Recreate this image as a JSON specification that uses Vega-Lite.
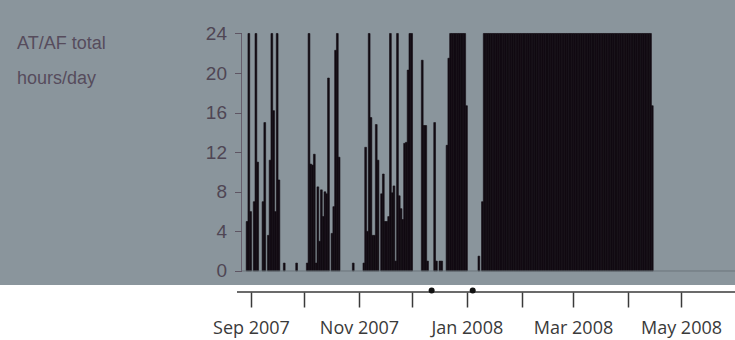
{
  "$schema": "https://vega.github.io/schema/vega-lite/v6.json",
  "width": 735,
  "height": 285,
  "autosize": {"type": "none"},
  "padding": {"left": 0, "top": 0, "right": 0, "bottom": 55},
  "background": "white",
  "config": {"view": {"fill": "#8a959c", "stroke": null}},
  "datasets": {
    "daily": [
      {"date": "2007-08-29", "h": 5}, {"date": "2007-08-30", "h": 24}, {"date": "2007-08-31", "h": 6},
      {"date": "2007-09-02", "h": 7}, {"date": "2007-09-03", "h": 24}, {"date": "2007-09-04", "h": 11},
      {"date": "2007-09-07", "h": 7}, {"date": "2007-09-08", "h": 15},
      {"date": "2007-09-10", "h": 3.6}, {"date": "2007-09-11", "h": 11.2}, {"date": "2007-09-12", "h": 24},
      {"date": "2007-09-13", "h": 16.2}, {"date": "2007-09-14", "h": 6}, {"date": "2007-09-15", "h": 24},
      {"date": "2007-09-16", "h": 9.2},
      {"date": "2007-09-19", "h": 0.8}, {"date": "2007-09-26", "h": 0.8},
      {"date": "2007-10-02", "h": 0.8}, {"date": "2007-10-03", "h": 24}, {"date": "2007-10-04", "h": 10.8},
      {"date": "2007-10-05", "h": 10.7}, {"date": "2007-10-06", "h": 11.8}, {"date": "2007-10-07", "h": 0.8},
      {"date": "2007-10-08", "h": 8.5}, {"date": "2007-10-09", "h": 3}, {"date": "2007-10-10", "h": 8.2},
      {"date": "2007-10-11", "h": 5.5}, {"date": "2007-10-12", "h": 8}, {"date": "2007-10-13", "h": 7.8},
      {"date": "2007-10-14", "h": 19.5}, {"date": "2007-10-16", "h": 3.8}, {"date": "2007-10-17", "h": 6.5},
      {"date": "2007-10-18", "h": 22.3}, {"date": "2007-10-19", "h": 24}, {"date": "2007-10-20", "h": 11.5},
      {"date": "2007-10-28", "h": 0.8},
      {"date": "2007-11-03", "h": 0.8}, {"date": "2007-11-04", "h": 12.5}, {"date": "2007-11-05", "h": 4},
      {"date": "2007-11-06", "h": 24}, {"date": "2007-11-07", "h": 15.5}, {"date": "2007-11-08", "h": 3.6},
      {"date": "2007-11-09", "h": 3.6}, {"date": "2007-11-10", "h": 14.8}, {"date": "2007-11-11", "h": 11.2},
      {"date": "2007-11-13", "h": 7.8}, {"date": "2007-11-14", "h": 9.8}, {"date": "2007-11-15", "h": 5},
      {"date": "2007-11-16", "h": 5}, {"date": "2007-11-17", "h": 5.5}, {"date": "2007-11-18", "h": 24},
      {"date": "2007-11-19", "h": 7.9}, {"date": "2007-11-20", "h": 8.6}, {"date": "2007-11-21", "h": 1},
      {"date": "2007-11-22", "h": 24}, {"date": "2007-11-23", "h": 7.6}, {"date": "2007-11-24", "h": 6.3},
      {"date": "2007-11-25", "h": 5.2}, {"date": "2007-11-26", "h": 12.9}, {"date": "2007-11-27", "h": 13},
      {"date": "2007-11-28", "h": 20.3}, {"date": "2007-11-29", "h": 24}, {"date": "2007-11-30", "h": 24},
      {"date": "2007-12-06", "h": 21.3}, {"date": "2007-12-07", "h": 14.7}, {"date": "2007-12-08", "h": 14.7},
      {"date": "2007-12-09", "h": 1}, {"date": "2007-12-13", "h": 15}, {"date": "2007-12-14", "h": 1},
      {"date": "2007-12-16", "h": 1}, {"date": "2007-12-17", "h": 1},
      {"date": "2007-12-20", "h": 12.7}, {"date": "2007-12-21", "h": 21.5},
      {"date": "2007-12-22", "h": 24}, {"date": "2007-12-23", "h": 24}, {"date": "2007-12-24", "h": 24},
      {"date": "2007-12-25", "h": 24}, {"date": "2007-12-26", "h": 24}, {"date": "2007-12-27", "h": 24},
      {"date": "2007-12-28", "h": 24}, {"date": "2007-12-29", "h": 24}, {"date": "2007-12-30", "h": 24},
      {"date": "2007-12-31", "h": 16.7},
      {"date": "2008-01-07", "h": 1.5}, {"date": "2008-01-09", "h": 7},
      {"date": "2008-01-10", "h": 24}, {"date": "2008-01-11", "h": 24}, {"date": "2008-01-12", "h": 24},
      {"date": "2008-01-13", "h": 24}, {"date": "2008-01-14", "h": 24}, {"date": "2008-01-15", "h": 24},
      {"date": "2008-01-16", "h": 24}, {"date": "2008-01-17", "h": 24}, {"date": "2008-01-18", "h": 24},
      {"date": "2008-01-19", "h": 24}, {"date": "2008-01-20", "h": 24}, {"date": "2008-01-21", "h": 24},
      {"date": "2008-01-22", "h": 24}, {"date": "2008-01-23", "h": 24}, {"date": "2008-01-24", "h": 24},
      {"date": "2008-01-25", "h": 24}, {"date": "2008-01-26", "h": 24}, {"date": "2008-01-27", "h": 24},
      {"date": "2008-01-28", "h": 24}, {"date": "2008-01-29", "h": 24}, {"date": "2008-01-30", "h": 24},
      {"date": "2008-01-31", "h": 24},
      {"date": "2008-02-01", "h": 24}, {"date": "2008-02-02", "h": 24}, {"date": "2008-02-03", "h": 24},
      {"date": "2008-02-04", "h": 24}, {"date": "2008-02-05", "h": 24}, {"date": "2008-02-06", "h": 24},
      {"date": "2008-02-07", "h": 24}, {"date": "2008-02-08", "h": 24}, {"date": "2008-02-09", "h": 24},
      {"date": "2008-02-10", "h": 24}, {"date": "2008-02-11", "h": 24}, {"date": "2008-02-12", "h": 24},
      {"date": "2008-02-13", "h": 24}, {"date": "2008-02-14", "h": 24}, {"date": "2008-02-15", "h": 24},
      {"date": "2008-02-16", "h": 24}, {"date": "2008-02-17", "h": 24}, {"date": "2008-02-18", "h": 24},
      {"date": "2008-02-19", "h": 24}, {"date": "2008-02-20", "h": 24}, {"date": "2008-02-21", "h": 24},
      {"date": "2008-02-22", "h": 24}, {"date": "2008-02-23", "h": 24}, {"date": "2008-02-24", "h": 24},
      {"date": "2008-02-25", "h": 24}, {"date": "2008-02-26", "h": 24}, {"date": "2008-02-27", "h": 24},
      {"date": "2008-02-28", "h": 24}, {"date": "2008-02-29", "h": 24},
      {"date": "2008-03-01", "h": 24}, {"date": "2008-03-02", "h": 24}, {"date": "2008-03-03", "h": 24},
      {"date": "2008-03-04", "h": 24}, {"date": "2008-03-05", "h": 24}, {"date": "2008-03-06", "h": 24},
      {"date": "2008-03-07", "h": 24}, {"date": "2008-03-08", "h": 24}, {"date": "2008-03-09", "h": 24},
      {"date": "2008-03-10", "h": 24}, {"date": "2008-03-11", "h": 24}, {"date": "2008-03-12", "h": 24},
      {"date": "2008-03-13", "h": 24}, {"date": "2008-03-14", "h": 24}, {"date": "2008-03-15", "h": 24},
      {"date": "2008-03-16", "h": 24}, {"date": "2008-03-17", "h": 24}, {"date": "2008-03-18", "h": 24},
      {"date": "2008-03-19", "h": 24}, {"date": "2008-03-20", "h": 24}, {"date": "2008-03-21", "h": 24},
      {"date": "2008-03-22", "h": 24}, {"date": "2008-03-23", "h": 24}, {"date": "2008-03-24", "h": 24},
      {"date": "2008-03-25", "h": 24}, {"date": "2008-03-26", "h": 24}, {"date": "2008-03-27", "h": 24},
      {"date": "2008-03-28", "h": 24}, {"date": "2008-03-29", "h": 24}, {"date": "2008-03-30", "h": 24},
      {"date": "2008-03-31", "h": 24},
      {"date": "2008-04-01", "h": 24}, {"date": "2008-04-02", "h": 24}, {"date": "2008-04-03", "h": 24},
      {"date": "2008-04-04", "h": 24}, {"date": "2008-04-05", "h": 24}, {"date": "2008-04-06", "h": 24},
      {"date": "2008-04-07", "h": 24}, {"date": "2008-04-08", "h": 24}, {"date": "2008-04-09", "h": 24},
      {"date": "2008-04-10", "h": 24}, {"date": "2008-04-11", "h": 24}, {"date": "2008-04-12", "h": 24},
      {"date": "2008-04-13", "h": 24}, {"date": "2008-04-14", "h": 16.7}
    ],
    "events": [
      {"date": "2007-12-12T02:00:00Z"},
      {"date": "2008-01-04T07:00:00Z"}
    ],
    "one": [{}]
  },
  "layer": [
    {
      "data": {"name": "daily"},
      "mark": {"type": "bar", "color": "#120b13", "binSpacing": 0, "stroke": "#120b13", "strokeWidth": 0.6},
      "encoding": {
        "x": {
          "field": "date", "timeUnit": "utcyearmonthdate", "type": "temporal",
          "scale": {"domain": [1176349134648, 1212237238368]},
          "axis": {
            "orient": "bottom", "offset": 7, "domain": false, "grid": false, "title": null, "zindex": 2,
            "values": [1188604800000, 1191196800000, 1193875200000, 1196467200000, 1199145600000, 1201824000000, 1204329600000, 1207008000000, 1209600000000],
            "labelExpr": "utcmonth(datum.value) % 2 === 0 ? utcFormat(datum.value, '%b %Y') : ''",
            "tickSize": 15, "tickWidth": 1.5, "tickColor": "#3a3a3a",
            "labelFont": "Open Sans", "labelFontSize": 18, "labelColor": "#3a3a3a",
            "labelPadding": 12, "labelOverlap": false, "labelFlush": false
          }
        },
        "y": {
          "field": "h", "type": "quantitative",
          "scale": {"domain": [-1.415, 27.385], "nice": false, "zero": false},
          "axis": {
            "orient": "left", "offset": -241.5, "domain": false, "grid": false, "zindex": 2,
            "values": [0,1,2,3,4,5,6,7,8,9,10,11,12,13,14,15,16,17,18,19,20,21,22,23,24],
            "labelExpr": "datum.value % 4 === 0 ? datum.label : ''",
            "tickSize": {"condition": {"test": "datum.value % 4 === 0", "value": 7}, "value": 4},
            "tickColor": "#5e5563", "tickWidth": 1,
            "labelFont": "Liberation Sans",
            "labelFontSize": 19, "labelColor": "#4f4654", "labelPadding": 8, "labelOverlap": false,
            "title": ["AT/AF total", "hours/day"],
            "titleX": -225, "titleY": 34, "titleAngle": 0, "titleAlign": "left", "titleBaseline": "top",
            "titleFont": "Liberation Sans",
            "titleFontSize": 18, "titleFontWeight": "normal", "titleColor": "#564c5c", "titleLineHeight": 35
          }
        },
        "y2": {"datum": 0}
      }
    },
    {
      "data": {"name": "one"},
      "mark": {"type": "rule", "color": "#665d6c", "strokeWidth": 1},
      "encoding": {
        "x": {"datum": 1188140940156, "type": "temporal"},
        "y": {"datum": 0, "type": "quantitative"},
        "y2": {"datum": 24}
      }
    },
    {
      "data": {"name": "one"},
      "mark": {"type": "rule", "color": "#6c757c", "strokeWidth": 1},
      "encoding": {
        "x": {"datum": 1188140940156, "type": "temporal"},
        "x2": {"datum": 1212278400000},
        "y": {"datum": 0, "type": "quantitative"}
      }
    },
    {
      "data": {"name": "one"},
      "mark": {"type": "rule", "color": "#3a3a3a", "strokeWidth": 1.5},
      "encoding": {
        "x": {"datum": 1187921217072, "type": "temporal"},
        "x2": {"datum": 1212278400000},
        "y": {"datum": -2.12, "type": "quantitative"}
      }
    },
    {
      "data": {"name": "events"},
      "mark": {"type": "point", "filled": true, "color": "#111111", "size": 36, "opacity": 1},
      "encoding": {
        "x": {"field": "date", "type": "temporal"},
        "y": {"datum": -1.97, "type": "quantitative"}
      }
    }
  ]
}
